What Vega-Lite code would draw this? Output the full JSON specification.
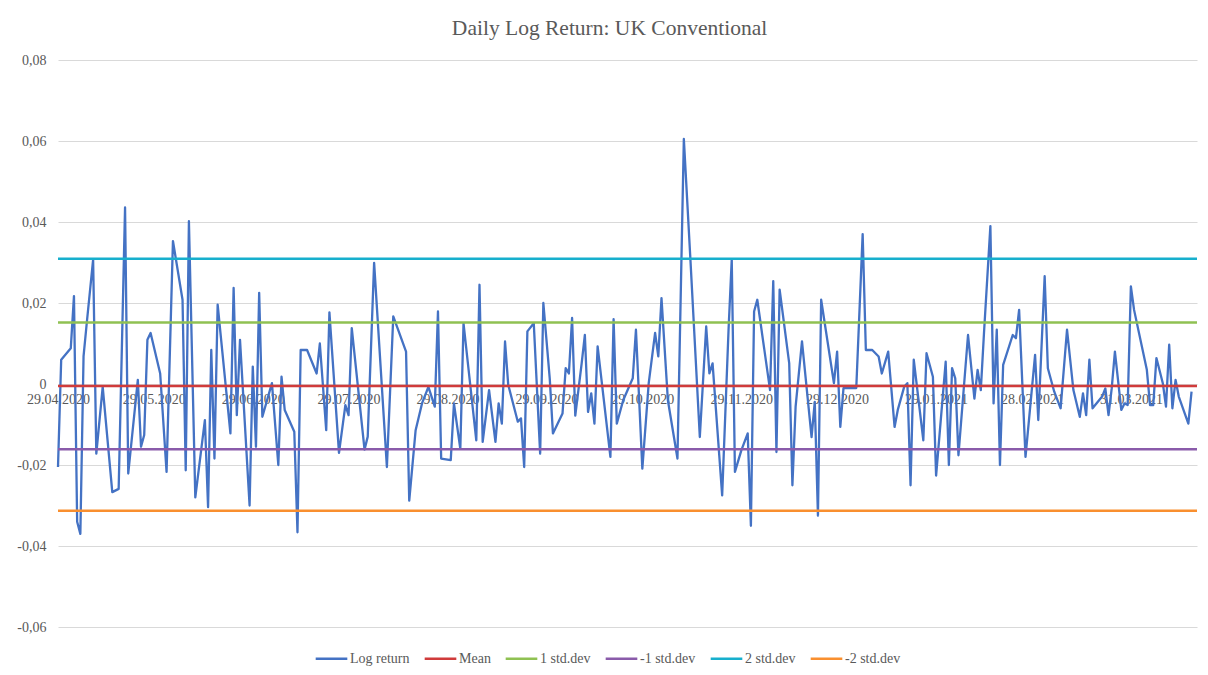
{
  "$schema": "https://vega.github.io/schema/vega-lite/v6.json",
  "width": 1139,
  "height": 567,
  "autosize": {"type": "none"},
  "padding": {"left": 58, "top": 60, "right": 11, "bottom": 48},
  "background": "white",
  "title": {
    "text": "Daily Log Return: UK Conventional",
    "font": "Liberation Serif",
    "fontSize": 21.5,
    "fontWeight": "normal",
    "color": "#595959",
    "anchor": "middle",
    "frame": "group",
    "dx": -18,
    "offset": -3,
    "baseline": "alphabetic"
  },
  "config": {
    "view": {"stroke": null},
    "legend": {
      "title": null,
      "orient": "none",
      "legendX": 256,
      "legendY": 581,
      "direction": "horizontal",
      "symbolType": "stroke",
      "symbolSize": 1000,
      "symbolStrokeWidth": 2.5,
      "labelFont": "Liberation Serif",
      "labelFontSize": 14,
      "labelColor": "#595959",
      "labelOffset": 1,
      "columnPadding": 9,
      "padding": 0
    }
  },
  "datasets": {
    "returns": [
      {"date": "2020-04-29", "value": -0.0205},
      {"date": "2020-04-30", "value": 0.006},
      {"date": "2020-05-03", "value": 0.0088},
      {"date": "2020-05-04", "value": 0.0217},
      {"date": "2020-05-05", "value": -0.034},
      {"date": "2020-05-06", "value": -0.037},
      {"date": "2020-05-07", "value": 0.0068},
      {"date": "2020-05-08", "value": 0.015},
      {"date": "2020-05-10", "value": 0.0307},
      {"date": "2020-05-11", "value": -0.0172},
      {"date": "2020-05-13", "value": -0.0007},
      {"date": "2020-05-16", "value": -0.0267},
      {"date": "2020-05-18", "value": -0.0259},
      {"date": "2020-05-20", "value": 0.0436},
      {"date": "2020-05-21", "value": -0.0221},
      {"date": "2020-05-24", "value": 0.001},
      {"date": "2020-05-25", "value": -0.0155},
      {"date": "2020-05-26", "value": -0.0126},
      {"date": "2020-05-27", "value": 0.0109},
      {"date": "2020-05-28", "value": 0.0126},
      {"date": "2020-05-31", "value": 0.0026},
      {"date": "2020-06-02", "value": -0.0217},
      {"date": "2020-06-04", "value": 0.0353},
      {"date": "2020-06-07", "value": 0.0208},
      {"date": "2020-06-08", "value": -0.0213},
      {"date": "2020-06-09", "value": 0.0402},
      {"date": "2020-06-11", "value": -0.028},
      {"date": "2020-06-14", "value": -0.0089},
      {"date": "2020-06-15", "value": -0.0304},
      {"date": "2020-06-16", "value": 0.0084},
      {"date": "2020-06-17", "value": -0.0184},
      {"date": "2020-06-18", "value": 0.0196},
      {"date": "2020-06-22", "value": -0.0122},
      {"date": "2020-06-23", "value": 0.0237},
      {"date": "2020-06-24", "value": -0.0077},
      {"date": "2020-06-25", "value": 0.0109},
      {"date": "2020-06-28", "value": -0.03},
      {"date": "2020-06-29", "value": 0.0043},
      {"date": "2020-06-30", "value": -0.0155},
      {"date": "2020-07-01", "value": 0.0225},
      {"date": "2020-07-02", "value": -0.0081},
      {"date": "2020-07-05", "value": 0.0002},
      {"date": "2020-07-07", "value": -0.02},
      {"date": "2020-07-08", "value": 0.0018},
      {"date": "2020-07-09", "value": -0.0064},
      {"date": "2020-07-12", "value": -0.0118},
      {"date": "2020-07-13", "value": -0.0366},
      {"date": "2020-07-14", "value": 0.0084},
      {"date": "2020-07-16", "value": 0.0084},
      {"date": "2020-07-19", "value": 0.0026},
      {"date": "2020-07-20", "value": 0.01},
      {"date": "2020-07-22", "value": -0.0114},
      {"date": "2020-07-23", "value": 0.0177},
      {"date": "2020-07-26", "value": -0.017},
      {"date": "2020-07-28", "value": -0.0052},
      {"date": "2020-07-29", "value": -0.0077},
      {"date": "2020-07-30", "value": 0.0138},
      {"date": "2020-08-03", "value": -0.0162},
      {"date": "2020-08-04", "value": -0.013},
      {"date": "2020-08-06", "value": 0.0299},
      {"date": "2020-08-10", "value": -0.0205},
      {"date": "2020-08-12", "value": 0.0167},
      {"date": "2020-08-16", "value": 0.008},
      {"date": "2020-08-17", "value": -0.0288},
      {"date": "2020-08-19", "value": -0.0114},
      {"date": "2020-08-21", "value": -0.0048},
      {"date": "2020-08-23", "value": -0.0007},
      {"date": "2020-08-25", "value": -0.0056},
      {"date": "2020-08-26", "value": 0.0179},
      {"date": "2020-08-27", "value": -0.0184},
      {"date": "2020-08-30", "value": -0.0188},
      {"date": "2020-08-31", "value": -0.0048},
      {"date": "2020-09-02", "value": -0.016},
      {"date": "2020-09-03", "value": 0.015},
      {"date": "2020-09-07", "value": -0.0139},
      {"date": "2020-09-08", "value": 0.0245},
      {"date": "2020-09-09", "value": -0.0143},
      {"date": "2020-09-11", "value": -0.0015},
      {"date": "2020-09-13", "value": -0.0143},
      {"date": "2020-09-14", "value": -0.0048},
      {"date": "2020-09-15", "value": -0.0098},
      {"date": "2020-09-16", "value": 0.0105},
      {"date": "2020-09-17", "value": -0.0002},
      {"date": "2020-09-20", "value": -0.0093},
      {"date": "2020-09-21", "value": -0.0085},
      {"date": "2020-09-22", "value": -0.0205},
      {"date": "2020-09-23", "value": 0.013},
      {"date": "2020-09-25", "value": 0.015},
      {"date": "2020-09-27", "value": -0.0172},
      {"date": "2020-09-28", "value": 0.02},
      {"date": "2020-09-30", "value": 0.0014},
      {"date": "2020-10-01", "value": -0.0122},
      {"date": "2020-10-04", "value": -0.0073},
      {"date": "2020-10-05", "value": 0.0039},
      {"date": "2020-10-06", "value": 0.0026},
      {"date": "2020-10-07", "value": 0.0163},
      {"date": "2020-10-08", "value": -0.0078},
      {"date": "2020-10-10", "value": 0.0051},
      {"date": "2020-10-11", "value": 0.0121},
      {"date": "2020-10-12", "value": -0.0069},
      {"date": "2020-10-13", "value": -0.0023},
      {"date": "2020-10-14", "value": -0.0098},
      {"date": "2020-10-15", "value": 0.0093},
      {"date": "2020-10-19", "value": -0.018},
      {"date": "2020-10-20", "value": 0.016},
      {"date": "2020-10-21", "value": -0.0098},
      {"date": "2020-10-23", "value": -0.004},
      {"date": "2020-10-26", "value": 0.0014},
      {"date": "2020-10-27", "value": 0.0134},
      {"date": "2020-10-29", "value": -0.0209},
      {"date": "2020-10-31", "value": 0.0002},
      {"date": "2020-11-02", "value": 0.0126},
      {"date": "2020-11-03", "value": 0.0068},
      {"date": "2020-11-04", "value": 0.0212},
      {"date": "2020-11-06", "value": -0.004},
      {"date": "2020-11-09", "value": -0.0184},
      {"date": "2020-11-11", "value": 0.0605},
      {"date": "2020-11-13", "value": 0.0316},
      {"date": "2020-11-16", "value": -0.0131},
      {"date": "2020-11-18", "value": 0.0142},
      {"date": "2020-11-19", "value": 0.0026},
      {"date": "2020-11-20", "value": 0.0051},
      {"date": "2020-11-23", "value": -0.0275},
      {"date": "2020-11-25", "value": 0.0134},
      {"date": "2020-11-26", "value": 0.0307},
      {"date": "2020-11-27", "value": -0.0217},
      {"date": "2020-11-29", "value": -0.0164},
      {"date": "2020-12-01", "value": -0.0122},
      {"date": "2020-12-02", "value": -0.035},
      {"date": "2020-12-03", "value": 0.0179},
      {"date": "2020-12-04", "value": 0.0208},
      {"date": "2020-12-08", "value": -0.0015},
      {"date": "2020-12-09", "value": 0.0254},
      {"date": "2020-12-10", "value": -0.0168},
      {"date": "2020-12-11", "value": 0.0233},
      {"date": "2020-12-14", "value": 0.0051},
      {"date": "2020-12-15", "value": -0.025},
      {"date": "2020-12-16", "value": -0.0056},
      {"date": "2020-12-18", "value": 0.0105},
      {"date": "2020-12-21", "value": -0.0131},
      {"date": "2020-12-22", "value": -0.0044},
      {"date": "2020-12-23", "value": -0.0325},
      {"date": "2020-12-24", "value": 0.0208},
      {"date": "2020-12-28", "value": 0.0002},
      {"date": "2020-12-29", "value": 0.008},
      {"date": "2020-12-30", "value": -0.0106},
      {"date": "2020-12-31", "value": -0.001},
      {"date": "2021-01-02", "value": -0.001},
      {"date": "2021-01-04", "value": -0.001},
      {"date": "2021-01-06", "value": 0.037},
      {"date": "2021-01-07", "value": 0.0084},
      {"date": "2021-01-09", "value": 0.0084},
      {"date": "2021-01-11", "value": 0.0068},
      {"date": "2021-01-12", "value": 0.0026},
      {"date": "2021-01-14", "value": 0.008},
      {"date": "2021-01-16", "value": -0.0106},
      {"date": "2021-01-17", "value": -0.0064},
      {"date": "2021-01-19", "value": -0.0007},
      {"date": "2021-01-20", "value": 0.0002},
      {"date": "2021-01-21", "value": -0.025},
      {"date": "2021-01-22", "value": 0.006},
      {"date": "2021-01-25", "value": -0.0139},
      {"date": "2021-01-26", "value": 0.0076},
      {"date": "2021-01-28", "value": 0.0018},
      {"date": "2021-01-29", "value": -0.0226},
      {"date": "2021-02-01", "value": 0.0055},
      {"date": "2021-02-02", "value": -0.02},
      {"date": "2021-02-03", "value": 0.0039},
      {"date": "2021-02-04", "value": 0.0014},
      {"date": "2021-02-05", "value": -0.0176},
      {"date": "2021-02-08", "value": 0.0121},
      {"date": "2021-02-10", "value": -0.0036},
      {"date": "2021-02-11", "value": 0.0035},
      {"date": "2021-02-12", "value": -0.0015},
      {"date": "2021-02-13", "value": 0.0126},
      {"date": "2021-02-15", "value": 0.039},
      {"date": "2021-02-16", "value": -0.0048},
      {"date": "2021-02-17", "value": 0.0134},
      {"date": "2021-02-18", "value": -0.02},
      {"date": "2021-02-19", "value": 0.0047},
      {"date": "2021-02-22", "value": 0.0121},
      {"date": "2021-02-23", "value": 0.0113},
      {"date": "2021-02-24", "value": 0.0183},
      {"date": "2021-02-26", "value": -0.018},
      {"date": "2021-03-01", "value": 0.0072},
      {"date": "2021-03-02", "value": -0.0089},
      {"date": "2021-03-04", "value": 0.0266},
      {"date": "2021-03-05", "value": 0.0039},
      {"date": "2021-03-07", "value": -0.0019},
      {"date": "2021-03-09", "value": -0.006},
      {"date": "2021-03-11", "value": 0.0134},
      {"date": "2021-03-13", "value": -0.0015},
      {"date": "2021-03-15", "value": -0.0081},
      {"date": "2021-03-16", "value": -0.0023},
      {"date": "2021-03-17", "value": -0.0077},
      {"date": "2021-03-18", "value": 0.006},
      {"date": "2021-03-19", "value": -0.006},
      {"date": "2021-03-22", "value": -0.0031},
      {"date": "2021-03-23", "value": -0.0011},
      {"date": "2021-03-24", "value": -0.0077},
      {"date": "2021-03-25", "value": -0.0011},
      {"date": "2021-03-26", "value": 0.008},
      {"date": "2021-03-28", "value": -0.0064},
      {"date": "2021-03-29", "value": -0.0048},
      {"date": "2021-03-30", "value": -0.0052},
      {"date": "2021-03-31", "value": 0.0241},
      {"date": "2021-04-01", "value": 0.0183},
      {"date": "2021-04-05", "value": 0.0035},
      {"date": "2021-04-06", "value": -0.0052},
      {"date": "2021-04-07", "value": -0.0052},
      {"date": "2021-04-08", "value": 0.0064},
      {"date": "2021-04-10", "value": 0.0002},
      {"date": "2021-04-11", "value": -0.0056},
      {"date": "2021-04-12", "value": 0.0097},
      {"date": "2021-04-13", "value": -0.006},
      {"date": "2021-04-14", "value": 0.001},
      {"date": "2021-04-15", "value": -0.0031},
      {"date": "2021-04-18", "value": -0.0098},
      {"date": "2021-04-19", "value": -0.0019}
    ],
    "levels": [
      {"series": "Mean", "value": -0.0005},
      {"series": "1 std.dev", "value": 0.0152},
      {"series": "-1 std.dev", "value": -0.0161},
      {"series": "2 std.dev", "value": 0.0309},
      {"series": "-2 std.dev", "value": -0.0313}
    ]
  },
  "layer": [
    {
      "data": {"name": "returns"},
      "mark": {"type": "line", "strokeWidth": 2.3, "strokeJoin": "round"},
      "encoding": {
        "x": {
          "field": "date",
          "type": "temporal",
          "scale": {
            "type": "utc",
            "nice": false,
            "domain": [
              {"year": 2020, "month": 4, "date": 29, "utc": true},
              {"year": 2021, "month": 4, "date": 20, "hours": 17, "utc": true}
            ]
          },
          "axis": {
            "title": null,
            "grid": false,
            "ticks": false,
            "tickSize": 0,
            "domain": false,
            "offset": -243,
            "labelPadding": 8,
            "values": [
              {"year": 2020, "month": 4, "date": 29, "utc": true},
              {"year": 2020, "month": 5, "date": 29, "utc": true},
              {"year": 2020, "month": 6, "date": 29, "utc": true},
              {"year": 2020, "month": 7, "date": 29, "utc": true},
              {"year": 2020, "month": 8, "date": 29, "utc": true},
              {"year": 2020, "month": 9, "date": 29, "utc": true},
              {"year": 2020, "month": 10, "date": 29, "utc": true},
              {"year": 2020, "month": 11, "date": 29, "utc": true},
              {"year": 2020, "month": 12, "date": 29, "utc": true},
              {"year": 2021, "month": 1, "date": 29, "utc": true},
              {"year": 2021, "month": 2, "date": 28, "utc": true},
              {"year": 2021, "month": 3, "date": 31, "utc": true}
            ],
            "labelExpr": "utcFormat(datum.value, '%d.%m.%Y')",
            "labelFont": "Liberation Serif",
            "labelFontSize": 14,
            "labelColor": "#595959",
            "labelFlush": false,
            "labelOverlap": false,
            "zindex": 0
          }
        },
        "y": {
          "field": "value",
          "type": "quantitative",
          "scale": {"domain": [-0.06, 0.08], "nice": false, "zero": false},
          "axis": {
            "title": null,
            "values": [-0.06, -0.04, -0.02, 0, 0.02, 0.04, 0.06, 0.08],
            "grid": true,
            "gridColor": "#D9D9D9",
            "gridWidth": 1,
            "ticks": false,
            "tickSize": 0,
            "domain": false,
            "labelPadding": 12,
            "labelExpr": "datum.value == 0 ? '0' : (datum.value < 0 ? '-' : '') + replace(format(abs(datum.value), '.2f'), '.', ',')",
            "labelFont": "Liberation Serif",
            "labelFontSize": 14,
            "labelColor": "#595959"
          }
        },
        "color": {
          "datum": "Log return",
          "type": "nominal",
          "scale": {
            "domain": ["Log return", "Mean", "1 std.dev", "-1 std.dev", "2 std.dev", "-2 std.dev"],
            "range": ["#4472C4", "#D03B3B", "#8FC152", "#8A5BAA", "#17AFCD", "#F98F2F"]
          }
        }
      }
    },
    {
      "data": {"name": "levels"},
      "mark": {"type": "rule", "strokeWidth": 2.5},
      "encoding": {
        "y": {"field": "value", "type": "quantitative"},
        "color": {"field": "series", "type": "nominal"}
      }
    }
  ]
}
